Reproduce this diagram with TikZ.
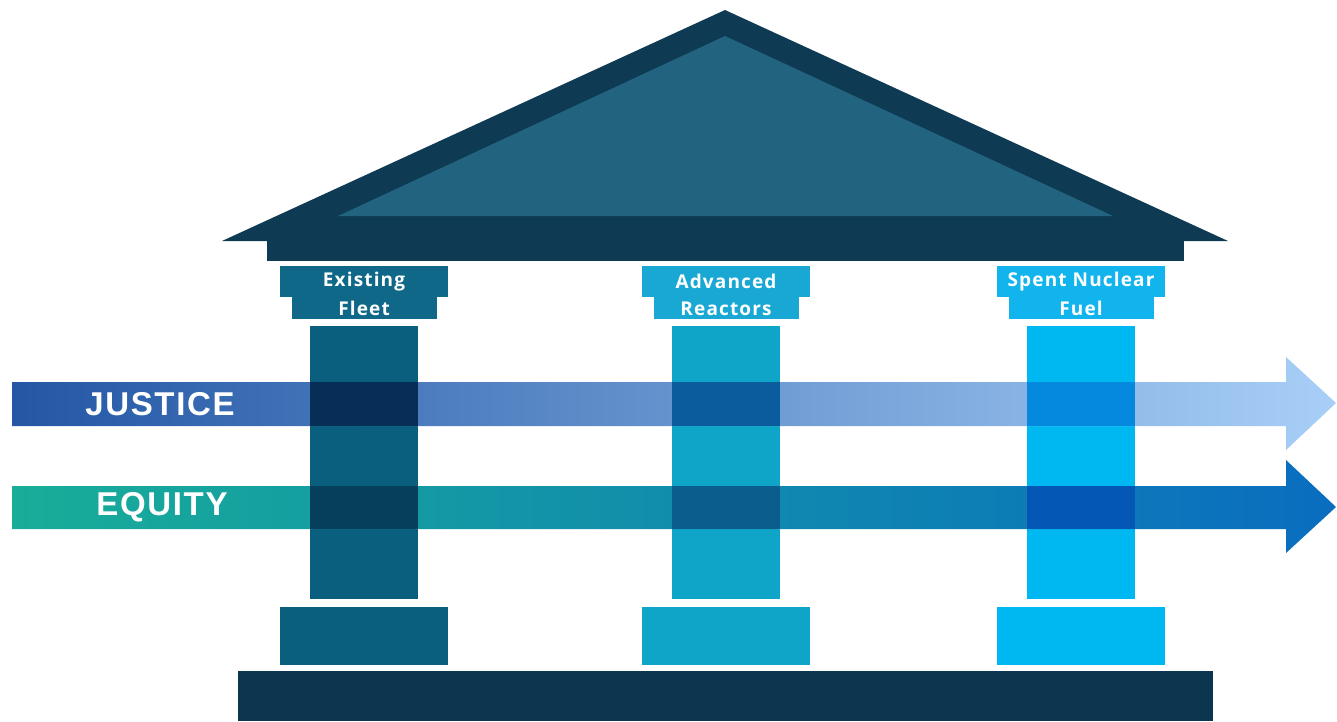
\documentclass[tikz,border=0pt]{standalone}
\usepackage{fontspec}
\newfontfamily\capfont[LetterSpace=6]{Open Sans}
\newfontfamily\arrowfont[LetterSpace=5]{Liberation Sans}
\usetikzlibrary{positioning}
\definecolor{roofdark}{HTML}{0E3A53}
\definecolor{roofmid}{HTML}{22637F}
\definecolor{plinth}{HTML}{0C3550}
\definecolor{fleetcol}{HTML}{0B5F7E}
\definecolor{fleetcap}{HTML}{0F6887}
\definecolor{reactcol}{HTML}{0EA5C8}
\definecolor{reactcap}{HTML}{18A8D3}
\definecolor{fuelcol}{HTML}{00B8F1}
\definecolor{fuelcap}{HTML}{12B4EE}
\definecolor{justleft}{HTML}{2357A5}
\definecolor{justright}{HTML}{A8CFF7}
\definecolor{eqleft}{HTML}{18AD98}
\definecolor{eqright}{HTML}{0A6DC0}
\definecolor{jfleet}{HTML}{062E57}
\definecolor{jreact}{HTML}{0A5C9C}
\definecolor{jfuel}{HTML}{0589DF}
\definecolor{qfleet}{HTML}{063F5C}
\definecolor{qreact}{HTML}{0A5D8C}
\definecolor{qfuel}{HTML}{0457B5}
\tikzset{
  capbox/.style={inner sep=0pt, text=white, font=\capfont\bfseries\fontsize{19}{19}\selectfont},
  shaft/.style={inner sep=0pt, minimum width=108pt, minimum height=273pt},
  footing/.style={inner sep=0pt, minimum width=168pt, minimum height=58pt},
  bandlabel/.style={text=white, inner sep=0pt, font=\arrowfont\bfseries\fontsize{33}{33}\selectfont}
}
\begin{document}
\begin{tikzpicture}[x=1pt,y=-1pt]
\useasboundingbox (0,0) rectangle (1337,721);
% roof
\fill[roofdark] (222,241) -- (725,10) -- (1228,241) -- cycle;
\fill[roofmid] (338,216) -- (725,36) -- (1113,216) -- cycle;
\fill[roofdark] (267,241) rectangle (1184,261);

% capitals
\node[capbox, fill=fleetcap, minimum width=168pt, minimum height=31pt] (EF) at (364,281.5) {Existing};
\node[capbox, fill=fleetcap, minimum width=145pt, minimum height=22pt, below=0pt of EF] (EF2) {Fleet};
\node[capbox, fill=reactcap, minimum width=168pt, minimum height=31pt] (AR) at (726,281.5) {Advanced};
\node[capbox, fill=reactcap, minimum width=145pt, minimum height=22pt, below=0pt of AR] (AR2) {Reactors};
\node[capbox, fill=fuelcap, minimum width=168pt, minimum height=31pt] (SF) at (1081,281.5) {Spent Nuclear};
\node[capbox, fill=fuelcap, minimum width=145pt, minimum height=22pt, below=0pt of SF] (SF2) {Fuel};

% columns and bases
\node[shaft, fill=fleetcol, below=6pt of EF2] (EC) {};
\node[shaft, fill=reactcol, below=6pt of AR2] (AC) {};
\node[shaft, fill=fuelcol, below=6pt of SF2] (SC) {};
\node[footing, fill=fleetcol, below=8pt of EC] (EB) {};
\node[footing, fill=reactcol, below=8pt of AC] (AB) {};
\node[footing, fill=fuelcol, below=8pt of SC] (SB) {};
\fill[plinth] (238,671) rectangle (1213,721);

% arrows
\coordinate (jt) at (0,382);
\coordinate (jb) at (0,426);
\coordinate (qt) at (0,486);
\coordinate (qb) at (0,529);
\shade[left color=justleft, right color=justright] (12,382) -- (1286,382) -- (1286,357) -- (1336,403)
  -- (1286,450) -- (1286,426) -- (12,426) -- cycle;
\shade[left color=eqleft, right color=eqright] (12,486) -- (1286,486) -- (1286,460) -- (1336,507)
  -- (1286,553) -- (1286,529) -- (12,529) -- cycle;

% crossings
\fill[jfleet] (EC.west |- jt) rectangle (EC.east |- jb);
\fill[jreact] (AC.west |- jt) rectangle (AC.east |- jb);
\fill[jfuel] (SC.west |- jt) rectangle (SC.east |- jb);
\fill[qfleet] (EC.west |- qt) rectangle (EC.east |- qb);
\fill[qreact] (AC.west |- qt) rectangle (AC.east |- qb);
\fill[qfuel] (SC.west |- qt) rectangle (SC.east |- qb);

\node[bandlabel] (J) at (160,404) {JUSTICE};
\node[bandlabel] (Q) at (162,507) {EQUITY};
\end{tikzpicture}
\end{document}
